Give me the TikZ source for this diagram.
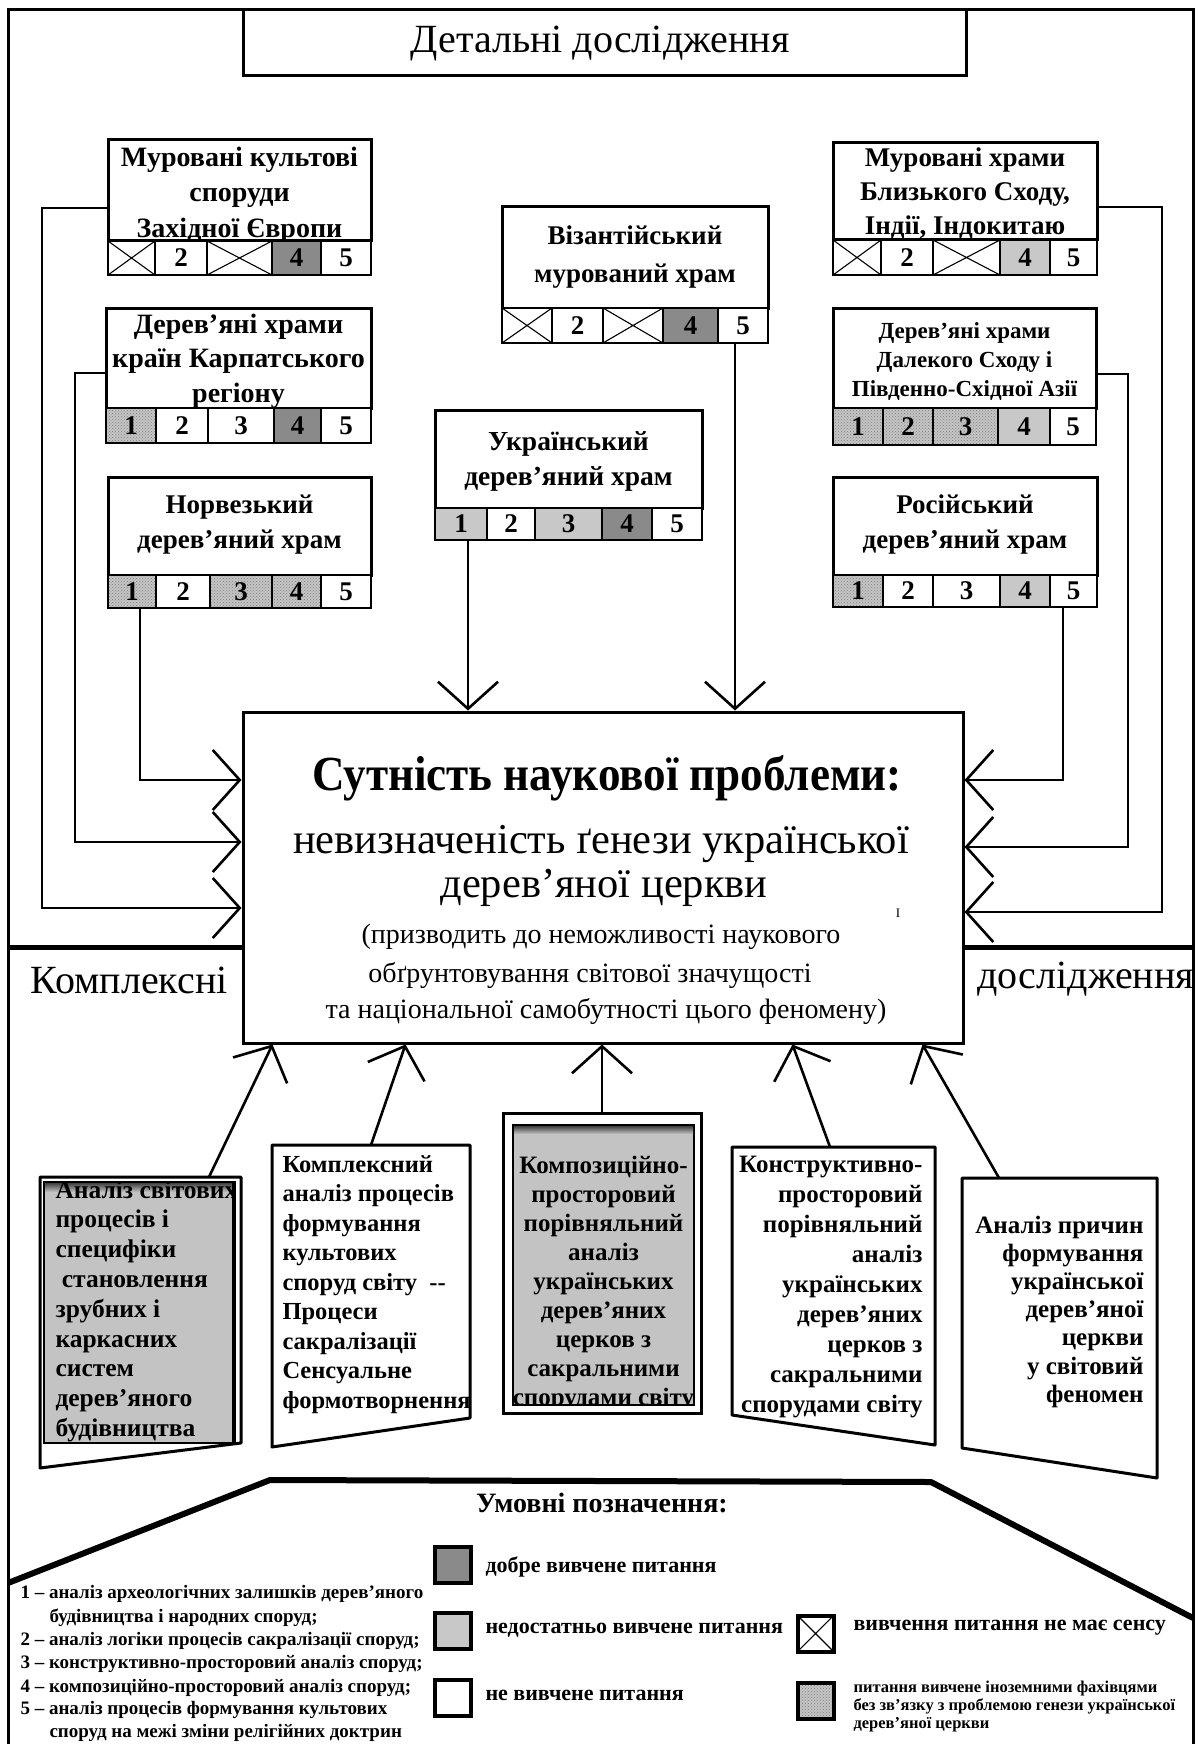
\documentclass[tikz,border=0pt]{standalone}
\usepackage{fontspec}
\setmainfont{Liberation Serif}
\usetikzlibrary{arrows.meta,patterns,calc}
\newcommand\fs[1]{\fontsize{#1}{#1}\selectfont}
\definecolor{dkg}{HTML}{8A8A8A}
\definecolor{ltg}{HTML}{C8C8C8}
\definecolor{dtg}{HTML}{C4C4C4}
\definecolor{boxg}{HTML}{C3C3C3}
\newcommand\mkbox[5]{\node[boxnode,minimum width={#4-#2},minimum height={#5-#3}] (#1) at ({(#2+#4)/2},{(#3+#5)/2}) {};}
\newcommand\txl[6]{\foreach \myline [count=\cnt from 0] in {#6} {\node[#5] (#1\cnt) at (#2,{#3+\cnt*#4}) {\myline};}}
\newcommand\cells[4]{\foreach \xa/\xb/\cst/\cct [count=\cnt] in {#4} {\node[cellnode,\cst,minimum width={\xb-\xa},minimum height={#3-#2}] (#1\cnt) at ({(\xa+\xb)/2},{(#2+#3)/2}) {\cct};}}
\begin{document}
\begin{tikzpicture}[x=1pt,y=-1pt,
  line width=3pt,
  arr/.style={line width=2.6pt,-{Straight Barb[length=27pt,width=60pt,line width=2.6pt]}},
  boxnode/.style={draw,fill=white,line width=3pt,inner sep=0,rectangle},
  cellnode/.style={draw,fill=white,line width=2.6pt,inner sep=0,rectangle,font=\bfseries\fs{27}},
  wh/.style={},
  xc/.style={path picture={\draw[line width=1.1pt] (path picture bounding box.north west) -- (path picture bounding box.south east) (path picture bounding box.south west) -- (path picture bounding box.north east);}},
  dk/.style={fill=dkg},
  lt/.style={fill=ltg},
  dt/.style={preaction={fill=dtg},pattern=crosshatch dots,pattern color=black!50},
  hb/.style={font=\bfseries\fs{#1},anchor=base,inner sep=0},
  hbw/.style={font=\bfseries\fs{#1},anchor=base west,inner sep=0},
  hbe/.style={font=\bfseries\fs{#1},anchor=base east,inner sep=0},
  hr/.style={font=\fs{#1},anchor=base,inner sep=0},
  legsq/.style={draw,line width=4pt,fill=white,minimum width=36,minimum height=36,inner sep=0},
  sep/.style={line width=5pt}
]
\useasboundingbox (0,0) rectangle (1198,1744);
\fill[white] (0,0) rectangle (1198,1744);
% frame
\draw[line width=3pt] (8,1744) -- (8,10) -- (1193,10) -- (1193,1744);
% title
\mkbox{title}{243}{10}{966}{76}
\node[hr=40] (titleT) at (600,53) {Детальні дослідження};

% ---- top boxes ----
\mkbox{we}{108}{140}{371}{241}
\txl{weT}{239.5}{167}{35}{hb=28}{Муровані культові, споруди, Західної Європи}
\cells{we}{241}{275}{108/155/xc/{}, 155/207/wh/2, 207/272/xc/{}, 272/321/dk/4, 321/371/wh/5}

\mkbox{carp}{106}{308}{371}{408}
\txl{carpT}{238.5}{333}{34.5}{hb=28}{Дерев’яні храми, країн Карпатського, регіону}
\cells{carp}{408}{443}{106/156/dt/1, 156/208/wh/2, 208/274/wh/3, 274/321/dk/4, 321/371/wh/5}

\mkbox{norw}{108}{477}{371}{575}
\txl{norwT}{239.5}{513}{35}{hb=27}{Норвезький, дерев’яний храм}
\cells{norw}{575}{608}{108/156/dt/1, 156/210/wh/2, 210/272/dt/3, 272/321/dt/4, 321/371/wh/5}

\mkbox{byz}{502}{207}{768}{308}
\txl{byzT}{635}{245}{37}{hb=27}{Візантійський, мурований храм}
\cells{byz}{308}{343}{502/552/xc/{}, 552/603/wh/2, 603/663/xc/{}, 663/718/dk/4, 718/768/wh/5}

\mkbox{ukr}{435}{410}{702}{508}
\txl{ukrT}{568.5}{450}{35}{hb=27.5}{Український, дерев’яний храм}
\cells{ukr}{508}{540}{435/487/lt/1, 487/535/wh/2, 535/602/lt/3, 602/652/dk/4, 652/702/wh/5}

\mkbox{mide}{833}{143}{1097}{240}
\txl{mideT}{965}{167}{34}{hb=27}{Муровані храми, {Близького Сходу,}, {Індії, Індокитаю}}
\cells{mide}{240}{275}{833/881/xc/{}, 881/933/wh/2, 933/1000/xc/{}, 1000/1050/lt/4, 1050/1097/wh/5}

\mkbox{fare}{833}{308}{1096}{408}
\txl{fareT}{964.5}{338}{29}{hb=23}{Дерев’яні храми, Далекого Сходу і, Південно-Східної Азії}
\cells{fare}{408}{445}{833/883/dt/1, 883/933/dt/2, 933/998/dt/3, 998/1050/lt/4, 1050/1096/wh/5}

\mkbox{russ}{833}{477}{1097}{575}
\txl{russT}{965}{513}{35}{hb=27}{Російський, дерев’яний храм}
\cells{russ}{575}{607}{833/883/dt/1, 883/933/wh/2, 933/1000/wh/3, 1000/1050/lt/4, 1050/1097/wh/5}

% ---- main box ----
\node[boxnode,minimum width=720,minimum height=331] (main) at (603,877.5) {};
\node[hb=49] (m1) at (607,790) {\scalebox{0.92}[1]{Сутність наукової проблеми:}};
\node[hr=42.5] (m2) at (601,853) {невизначеність ґенези української};
\node[hr=42.5] (m3) at (604,897) {дерев’яної церкви};
\node[hr=28] (m4) at (601,943) {(призводить до неможливості наукового};
\node[hr=28] (m5) at (590,982) {обґрунтовування світової значущості};
\node[hr=28] (m6) at (606,1018) {та національної самобутності цього феномену)};
\node[hr=13] (mark) at (898,917) {I};

% separators
\draw[sep] (8,947) -- (main.west |- 0,947);
\draw[sep] (main.east |- 0,947) -- (1193,947);
\node[font=\fs{40},anchor=base west,inner sep=0] (kompl) at (29,993) {Комплексні};
\node[font=\fs{40},anchor=base west,inner sep=0] (dosl) at (976,988) {дослідження};

% ---- connectors from top boxes ----
\coordinate (weB) at (42,908);
\draw[arr] ([yshift=-17.5pt]we.west) -| (weB) -- (main.west |- weB);
\coordinate (carpB) at (75,842);
\draw[arr] ([yshift=-15pt]carp.west) -| (carpB) -- (main.west |- carpB);
\coordinate (norwS) at ([xshift=8pt]norw1.south);
\coordinate (norwB) at (140,780);
\draw[arr] (norwS) -- (norwB) -- (main.west |- norwB);
\coordinate (byzS) at ([xshift=-8pt]byz5.south);
\draw[arr] (byzS) -- (byzS |- main.north);
\coordinate (ukrS) at ([xshift=7pt]ukr1.south);
\draw[arr] (ukrS) -- (ukrS |- main.north);
\coordinate (mideB) at (1162,912);
\draw[arr] ([yshift=-15.5pt]mide.east) -| (mideB) -- (main.east |- mideB);
\coordinate (fareB) at (1128,847);
\draw[arr] ([yshift=-16pt]fare.east) -| (fareB) -- (main.east |- fareB);
\coordinate (russS) at ([xshift=-10.5pt]russ5.south);
\coordinate (russB) at (1063,780);
\draw[arr] (russS) -- (russB) -- (main.east |- russB);

% ---- bottom boxes ----
% A
\draw[line width=3pt,line join=round] (40,1177) -- (241,1177) -- (241,1443) -- (40,1468) -- cycle;
\node[draw,fill=boxg,line width=2pt,minimum width=191,minimum height=261,inner sep=0] (boxA) at (139.5,1312.5) {};
\shade[top color=black!75,bottom color=boxg] (45,1183) rectangle (232,1192);
\draw[line width=2pt] (233,1182) -- (233,1443);
\begin{scope}
\clip (44,1182) rectangle (232,1443);
\txl{aT}{54}{1198}{29.8}{hbw=25.5}{Аналіз світових, процесів і, специфіки, \ становлення, зрубних і, каркасних, систем, дерев’яного, будівництва}
\end{scope}
% B
\draw[line width=3pt,line join=round] (272,1145) -- (470,1145) -- (470,1418) -- (272,1447) -- cycle;
\txl{bT}{281}{1172}{29.5}{hbw=24.5}{Комплексний, аналіз процесів, формування, культових, споруд світу~~-{}-, Процеси, сакралізації, Сенсуальне, формотворнення}
% C
\node[draw,fill=white,line width=3pt,minimum width=198,minimum height=300,inner sep=0] (boxC) at (602,1263) {};
\node[draw,fill=boxg,line width=1.5pt,minimum width=181,minimum height=280,inner sep=0] (boxCi) at (603.5,1265) {};
\shade[top color=black!75,bottom color=boxg] (514,1126) rectangle (693,1134);
\begin{scope}
\clip (513,1125) rectangle (694,1405);
\txl{cT}{603.5}{1173}{29.1}{hb=25}{Композиційно-, просторовий, порівняльний, аналіз, українських, дерев’яних, церков з, сакральними, спорудами світу}
\end{scope}
% D
\draw[line width=3pt,line join=round] (732,1147) -- (935,1147) -- (935,1445) -- (732,1415) -- cycle;
\txl{dT}{924}{1172}{30}{hbe=25}{Конструктивно-, просторовий, порівняльний, аналіз, українських, дерев’яних, церков з, сакральними, спорудами світу}
% E
\draw[line width=3pt,line join=round] (962,1178) -- (1157,1178) -- (1157,1478) -- (962,1448) -- cycle;
\txl{eT}{1145}{1233}{28.2}{hbe=25}{Аналіз причин, формування, української, дерев’яної, церкви, у світовий, феномен}

% bottom connectors
\coordinate (aTop) at (209,1177);
\coordinate (bTop) at (371,1145);
\coordinate (dTop) at (830,1147);
\coordinate (eTop) at (999,1178);
\draw[arr] (aTop) -- ($(main.south west)+(31,0)$);
\draw[arr] (bTop) -- ($(main.south west)+(164,0)$);
\draw[arr] (boxC.north) -- (boxC.north |- main.south);
\draw[arr] (dTop) -- ($(main.south west)+(551,0)$);
\draw[arr] (eTop) -- ($(main.south west)+(681,0)$);

% lower thick line
\draw[line width=6pt,line join=round] (8,1583) -- (270,1480) -- (931,1482) -- (1193,1618);

% ---- legend ----
\node[hb=28] (legT) at (602,1512) {Умовні позначення:};
\node[legsq,fill=dkg] (lg1) at (453,1565) {};
\node[hbw=22] (lg1t) at (484,1572) {добре вивчене питання};
\node[legsq,fill=ltg] (lg2) at (453,1630.5) {};
\node[hbw=22] (lg2t) at (484,1633) {недостатньо вивчене питання};
\node[legsq] (lg3) at (453,1697.5) {};
\node[hbw=22] (lg3t) at (484,1700) {не вивчене питання};
\node[legsq,xc] (lg4) at (815.5,1633.5) {};
\node[hbw=22] (lg4t) at (852,1630) {вивчення питання не має сенсу};
\node[legsq,dt] (lg5) at (815.5,1700.5) {};
\txl{lg5t}{852}{1692}{18}{hbw=16.5}{питання вивчене іноземними фахівцями, без зв’язку з проблемою генези української, дерев’яної церкви}

% ---- numbered list ----
\node[hbw=19] (li1) at (19,1598) {1 – аналіз археологічних залишків дерев’яного};
\node[hbw=19] (li1b) at (48,1622) {будівництва і народних споруд;};
\node[hbw=19] (li2) at (19,1645) {2 – аналіз логіки процесів сакралізації споруд;};
\node[hbw=19] (li3) at (19,1668) {3 – конструктивно-просторовий аналіз споруд;};
\node[hbw=19] (li4) at (19,1692) {4 – композиційно-просторовий аналіз споруд;};
\node[hbw=19] (li5) at (19,1714) {5 – аналіз процесів формування культових};
\node[hbw=19] (li5b) at (48,1737) {споруд на межі зміни релігійних доктрин};
\end{tikzpicture}
\end{document}
